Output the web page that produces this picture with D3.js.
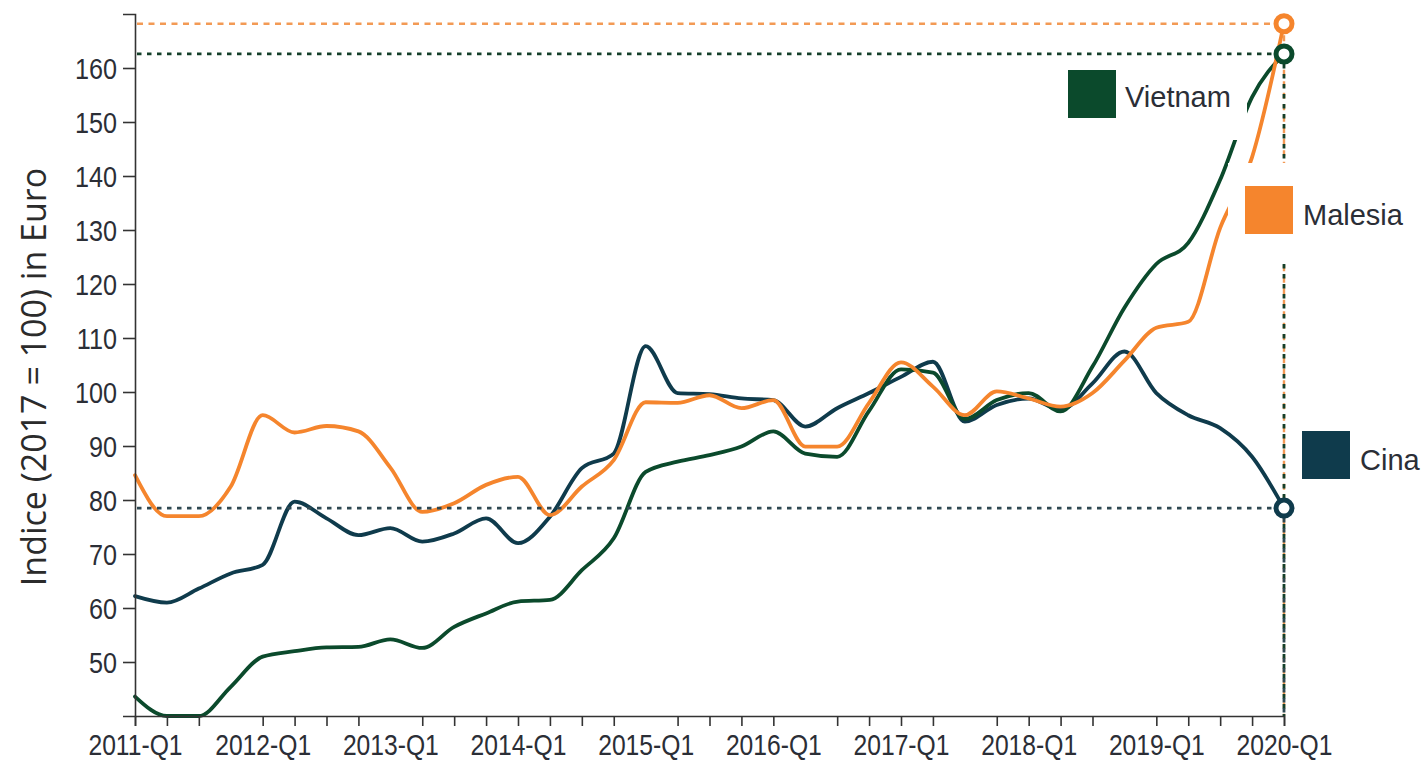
<!DOCTYPE html>
<html><head><meta charset="utf-8">
<script src="https://cdn.jsdelivr.net/npm/d3@7"></script>
<style>body{margin:0;background:#fff;} svg{display:block;}</style>
</head><body><svg id="c" width="1422" height="762"></svg>
<script>
// ---- data ----
const quarters = [
  "2011-Q1","2011-Q2","2011-Q3","2011-Q4",
  "2012-Q1","2012-Q2","2012-Q3","2012-Q4",
  "2013-Q1","2013-Q2","2013-Q3","2013-Q4",
  "2014-Q1","2014-Q2","2014-Q3","2014-Q4",
  "2015-Q1","2015-Q2","2015-Q3","2015-Q4",
  "2016-Q1","2016-Q2","2016-Q3","2016-Q4",
  "2017-Q1","2017-Q2","2017-Q3","2017-Q4",
  "2018-Q1","2018-Q2","2018-Q3","2018-Q4",
  "2019-Q1","2019-Q2","2019-Q3","2019-Q4",
  "2020-Q1"];
const tickQuarters = [
  "2011-Q1","2011-Q2","2011-Q3",
  "2012-Q1","2012-Q2","2012-Q3","2012-Q4",
  "2013-Q2","2013-Q3","2013-Q4",
  "2014-Q1","2014-Q2","2014-Q3","2014-Q4",
  "2015-Q2","2015-Q3","2015-Q4",
  "2016-Q1","2016-Q3","2016-Q4",
  "2017-Q1","2017-Q2","2017-Q4",
  "2018-Q1","2018-Q2","2018-Q3",
  "2019-Q1","2019-Q2","2019-Q3","2019-Q4",
  "2020-Q1"];
const xLabels = ["2011-Q1","2012-Q1","2013-Q1","2014-Q1","2015-Q1","2016-Q1","2017-Q1","2018-Q1","2019-Q1","2020-Q1"];
const yTicks = [50,60,70,80,90,100,110,120,130,140,150,160];
const yTitle = "Indice (2017 = 100) in Euro";

const vietnam = [43.6,40.0,40.0,45.4,51.0,52.0,52.7,52.8,54.2,52.6,56.5,59.0,61.2,61.5,67.0,72.9,
  85.2,87.1,88.3,89.9,92.7,88.6,88.0,96.5,104.2,103.6,95.0,98.5,99.8,96.4,104.7,115.6,
  123.7,127.6,139.3,154.6,162.6];
const malesia = [84.6,77.0,77.0,82.5,95.7,92.5,93.7,92.7,86.0,77.8,79.4,82.8,84.3,77.2,82.5,87.4,
  98.1,98.0,99.4,97.0,98.5,89.9,89.9,98.0,105.5,101.0,95.7,100.1,98.8,97.3,99.8,105.8,
  111.9,113.0,130.4,143.5,168.2];
const cina = [62.2,61.0,63.6,66.4,68.0,79.7,76.6,73.5,74.8,72.3,73.8,76.6,72.0,76.9,85.9,88.6,
  108.5,99.8,99.6,98.8,98.5,93.6,97.0,99.8,102.8,105.6,94.5,97.6,98.8,96.7,101.6,107.5,
  99.8,95.7,93.3,88.0,78.5];

const seriesNames = ["Cina","Vietnam","Malesia"];
const seriesValues = [cina, vietnam, malesia];
const seriesColors = ["#0f3b4c","#0b4a2c","#f5852d"];
const dotColors = ["#2e4852","#15402a","#f39a55"];

// ---- layout ----
const svg = d3.select("#c");
const x = d3.scalePoint().domain(quarters).range([135, 1284]);
const y = d3.scaleLinear().domain([40, 170]).range([716, 14]);
const tickFont = "'Liberation Sans', Arial, sans-serif";
const textColor = "#2b2e36";

// y-axis title
svg.append("text")
  .attr("transform", "translate(46,377) rotate(-90)")
  .attr("text-anchor", "middle")
  .style("font-family", "'Open Sans', sans-serif")
  .style("font-size", "34px")
  .attr("fill", "#2b2b2b")
  .text(yTitle);

// series lines
const line = d3.line()
  .x((d, i) => x(quarters[i]))
  .y(d => y(d))
  .curve(d3.curveMonotoneX);

const gLines = svg.append("g");
seriesValues.forEach((vals, k) => {
  gLines.append("path")
    .attr("d", line(vals))
    .attr("fill", "none")
    .attr("stroke", seriesColors[k])
    .attr("stroke-width", 3.8)
    .attr("stroke-linejoin", "round")
    .attr("stroke-linecap", "round");
});

// dotted reference lines
const last = quarters[quarters.length - 1];
const gRef = svg.append("g");
[2, 1, 0].forEach(k => {
  const v = seriesValues[k][seriesValues[k].length - 1];
  const dash = k === 2 ? "6,5.5" : "4.5,5.5";
  const sw = k === 2 ? 2.4 : 2.8;
  gRef.append("line")
    .attr("x1", x(quarters[0]) + 2).attr("x2", x(last))
    .attr("y1", y(v)).attr("y2", y(v))
    .attr("stroke", dotColors[k]).attr("stroke-width", sw)
    .attr("stroke-dasharray", dash);
  gRef.append("line")
    .attr("x1", x(last)).attr("x2", x(last))
    .attr("y1", y(v)).attr("y2", y(40))
    .attr("stroke", dotColors[k]).attr("stroke-width", sw)
    .attr("stroke-dasharray", dash);
});

// axes
const axisColor = "#333";
const gx = svg.append("g").attr("transform", `translate(0,${y(40)})`)
  .call(d3.axisBottom(x).tickValues(tickQuarters).tickSize(10).tickSizeOuter(10).tickFormat(""));
gx.selectAll("path,line").attr("stroke", axisColor).attr("stroke-width", 1.6);

const gxl = svg.append("g").attr("transform", `translate(0,${y(40)})`)
  .call(d3.axisBottom(x).tickValues(xLabels).tickSize(0));
gxl.select(".domain").remove();
gxl.selectAll("text")
  .attr("y", 39).attr("dy", 0)
  .attr("transform", "scale(0.85,1)")
  .style("font-family", tickFont).style("font-size", "29px")
  .attr("fill", textColor);

const gy = svg.append("g").attr("transform", `translate(${x(quarters[0])},0)`)
  .call(d3.axisLeft(y).tickValues(yTicks).tickSize(12).tickSizeOuter(12));
gy.selectAll("path,line").attr("stroke", axisColor).attr("stroke-width", 1.6);
gy.selectAll("text")
  .attr("x", -18 / 0.84).attr("dy", "0.36em")
  .attr("transform", "scale(0.84,1)")
  .style("font-family", tickFont).style("font-size", "30px")
  .attr("fill", textColor);

// legend labels with white backgrounds
const legendBoxes = [
  {bx: 1292, by: 421, bw: 128, bh: 69, sx: 1302, sy: 431, tx: 1360, ty: 470},
  {bx: 1058, by: 60, bw: 189, bh: 80, sx: 1068, sy: 70, tx: 1125, ty: 107},
  {bx: 1228, by: 163, bw: 190, bh: 99, sx: 1245, sy: 186, tx: 1303, ty: 225}
];
const gLeg = svg.append("g");
legendBoxes.forEach((b, k) => {
  gLeg.append("rect").attr("x", b.bx).attr("y", b.by).attr("width", b.bw).attr("height", b.bh).attr("fill", "#fff");
  gLeg.append("rect").attr("x", b.sx).attr("y", b.sy).attr("width", 48).attr("height", 48).attr("fill", seriesColors[k]);
  gLeg.append("text").attr("x", b.tx).attr("y", b.ty)
    .style("font-family", tickFont).style("font-size", "29px")
    .attr("fill", textColor).text(seriesNames[k]);
});

// end circles
seriesValues.forEach((vals, k) => {
  svg.append("circle")
    .attr("cx", x(last)).attr("cy", y(vals[vals.length - 1]))
    .attr("r", 8).attr("fill", "#fff")
    .attr("stroke", seriesColors[k]).attr("stroke-width", 5);
});
</script>
</body></html>
